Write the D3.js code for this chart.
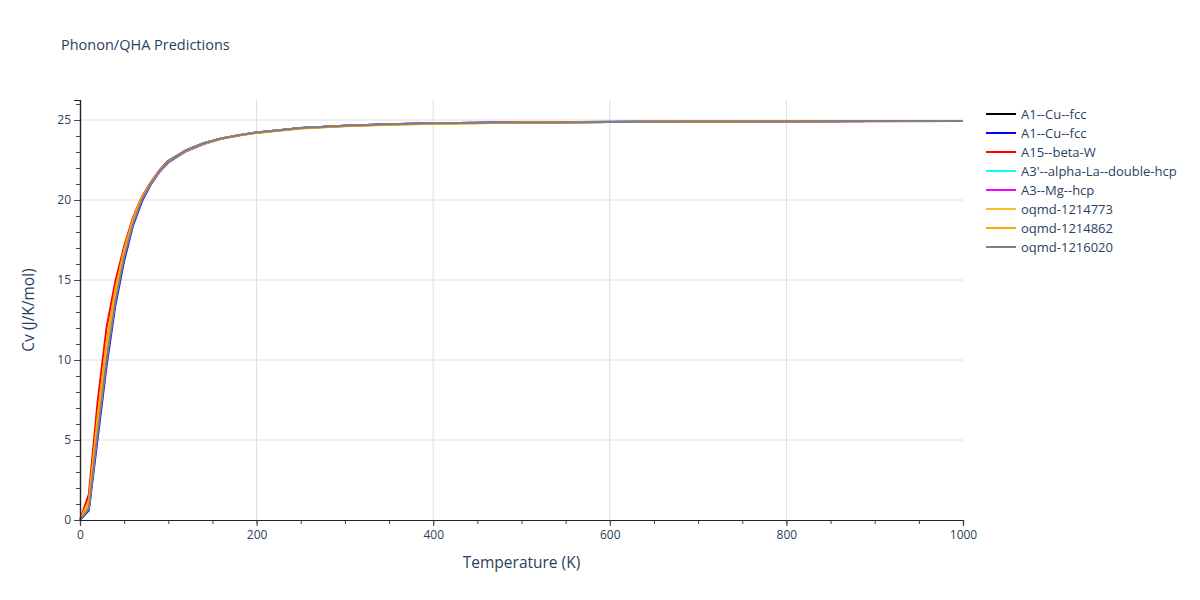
<!DOCTYPE html>
<html>
<head>
<meta charset="utf-8">
<script src="https://cdn.jsdelivr.net/npm/d3@7"></script>
<style>
  html, body { margin: 0; padding: 0; background: #fff; }
  svg { display: block; font-family: "Open Sans", Verdana, Arial, sans-serif; }
</style>
</head>
<body>
<svg id="chart" width="1200" height="600"></svg>
<script>
// ---- data ----
const temperatures = [0,10,20,30,40,50,60,70,80,90,100,120,140,160,180,200,250,300,350,400,500,600,700,800,900,1000];

const seriesNames = ["A1--Cu--fcc","A1--Cu--fcc","A15--beta-W","A3'--alpha-La--double-hcp","A3--Mg--hcp","oqmd-1214773","oqmd-1214862","oqmd-1216020"];
const seriesColors = ["#000000","#0000ff","#ff0000","#00ffff","#ff00ff","#f0c030","#ffa500","#808080"];

const cvBlack   = [0,0.8,5.6,10.1,13.8,16.5,18.6,20.1,21.05,21.85,22.45,23.1,23.55,23.85,24.05,24.22,24.5,24.64,24.73,24.79,24.85,24.88,24.9,24.92,24.93,24.94];
const cvBlue    = [0,0.6,5.1,9.6,13.4,16.2,18.4,19.9,20.95,21.75,22.35,23.05,23.5,23.83,24.04,24.21,24.5,24.64,24.73,24.79,24.85,24.89,24.9,24.92,24.93,24.94];
const cvRed     = [0,1.6,7.4,12.0,14.9,17.1,18.9,20.2,21.1,21.85,22.42,23.1,23.55,23.85,24.05,24.21,24.49,24.63,24.72,24.78,24.84,24.87,24.89,24.91,24.92,24.93];
const cvCyan    = [0,0.9,5.9,10.5,14.0,16.7,18.7,20.1,21.05,21.8,22.4,23.1,23.55,23.85,24.05,24.22,24.5,24.64,24.73,24.79,24.85,24.88,24.9,24.92,24.93,24.94];
const cvMagenta = [0,0.85,5.8,10.3,13.9,16.6,18.65,20.1,21.05,21.8,22.4,23.1,23.55,23.85,24.05,24.22,24.5,24.64,24.73,24.79,24.85,24.88,24.9,24.92,24.93,24.94];
const cvYellow  = [0,1.0,6.1,10.7,14.1,16.7,18.7,20.1,21.02,21.8,22.4,23.08,23.53,23.84,24.04,24.2,24.48,24.62,24.71,24.77,24.84,24.88,24.9,24.92,24.93,24.94];
const cvOrange  = [0,1.2,6.5,11.1,14.4,16.9,18.8,20.15,21.05,21.82,22.42,23.08,23.52,23.83,24.03,24.19,24.47,24.61,24.7,24.76,24.83,24.87,24.9,24.92,24.93,24.94];
const cvGray    = [0,0.7,5.4,9.9,13.6,16.4,18.5,20.0,21.0,21.8,22.4,23.1,23.55,23.85,24.05,24.22,24.5,24.64,24.73,24.79,24.85,24.88,24.9,24.92,24.93,24.94];

const seriesValues = [cvBlack, cvBlue, cvRed, cvCyan, cvMagenta, cvYellow, cvOrange, cvGray];

const xMajorTicks = [0,200,400,600,800,1000];
const yMajorTicks = [0,5,10,15,20,25];

// ---- layout ----
const svg = d3.select("#chart");
const textColor = "#2a3f5f";
const plotLeft = 80, plotRight = 963, plotTop = 100, plotBottom = 520;

const x = d3.scaleLinear().domain([0, 1000]).range([plotLeft, plotRight]);
const y = d3.scaleLinear().domain([0, 26.25]).range([plotBottom, plotTop]);

// grid
const grid = svg.append("g");
grid.selectAll("line.gx").data(xMajorTicks.filter(d => d > 0 && d < 1000)).enter()
  .append("line").attr("x1", d => x(d)).attr("x2", d => x(d))
  .attr("y1", plotTop).attr("y2", plotBottom).attr("stroke", "#dcdcdc").attr("stroke-width", 1);
grid.selectAll("line.gy").data(yMajorTicks.filter(d => d > 0)).enter()
  .append("line").attr("x1", plotLeft).attr("x2", plotRight)
  .attr("y1", d => y(d)).attr("y2", d => y(d)).attr("stroke", "#dcdcdc").attr("stroke-width", 1);

// lines
const line = d3.line().x(d => x(d[0])).y(d => y(d[1]));
const plot = svg.append("g");
seriesValues.forEach((vals, i) => {
  plot.append("path")
    .datum(temperatures.map((t, j) => [t, vals[j]]))
    .attr("d", line)
    .attr("fill", "none")
    .attr("stroke", seriesColors[i])
    .attr("stroke-width", 2)
    .attr("stroke-linejoin", "round");
});

// axes
const xMinor = d3.range(0, 1001, 50);
const yMinor = d3.range(0, 27, 1);

const xAxisMinor = d3.axisBottom(x).tickValues(xMinor).tickSize(4).tickFormat("");
const xAxis = d3.axisBottom(x).tickValues(xMajorTicks).tickSize(6).tickPadding(4).tickFormat(d3.format("d"));
const yAxisMinor = d3.axisLeft(y).tickValues(yMinor).tickSize(4).tickFormat("");
const yAxis = d3.axisLeft(y).tickValues(yMajorTicks).tickSize(6).tickPadding(3).tickFormat(d3.format("d"));

function style(g) {
  g.select(".domain").attr("stroke", "#222").attr("stroke-width", 1.2);
  g.selectAll(".tick line").attr("stroke", "#444");
  g.selectAll(".tick text").attr("fill", textColor).style("font-size", "12px")
    .style("font-family", '"Open Sans", Verdana, Arial, sans-serif');
}
svg.append("g").attr("transform", `translate(0,${plotBottom})`).call(xAxisMinor).call(style);
svg.append("g").attr("transform", `translate(0,${plotBottom})`).call(xAxis).call(style);
svg.append("g").attr("transform", `translate(${plotLeft},0)`).call(yAxisMinor).call(style);
svg.append("g").attr("transform", `translate(${plotLeft},0)`).call(yAxis).call(style);

// titles
svg.append("text").attr("x", 61).attr("y", 50).attr("fill", textColor)
  .style("font-size", "14.5px").text("Phonon/QHA Predictions");
svg.append("text").attr("x", (plotLeft + plotRight) / 2).attr("y", 568).attr("text-anchor", "middle")
  .attr("fill", textColor).style("font-size", "15.5px").text("Temperature (K)");
svg.append("text").attr("transform", `translate(34,${(plotTop + plotBottom) / 2}) rotate(-90)`)
  .attr("text-anchor", "middle").attr("fill", textColor).style("font-size", "15.5px").text("Cv (J/K/mol)");

// legend
const legend = svg.append("g");
seriesNames.forEach((name, i) => {
  const ly = 114 + i * 19;
  legend.append("line").attr("x1", 986).attr("x2", 1016).attr("y1", ly).attr("y2", ly)
    .attr("stroke", seriesColors[i]).attr("stroke-width", 2);
  legend.append("text").attr("x", 1021).attr("y", ly + 4.5).attr("fill", textColor)
    .style("font-size", "13px").text(name);
});
</script>
</body>
</html>
